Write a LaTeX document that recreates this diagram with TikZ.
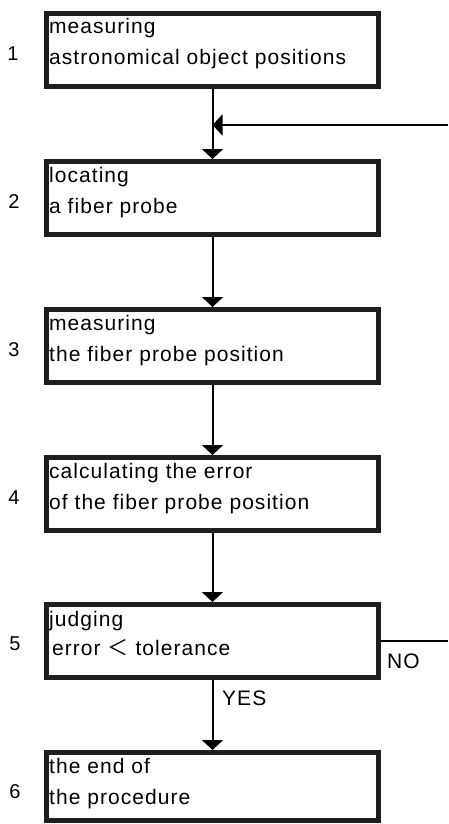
\documentclass[tikz,border=0pt]{standalone}
\usepackage{fontspec}
\setmainfont{Liberation Sans}[LetterSpace=5]
\newfontfamily\cjk{Noto Sans CJK JP}
\usetikzlibrary{arrows.meta}
\begin{document}
\begin{tikzpicture}[x=1pt,y=-1pt,
  stepbox/.style={draw=black!88,line width=5pt,minimum width=332pt,minimum height=73pt,inner sep=0pt,fill=white},
  txt/.style={anchor=base west,inner sep=0pt,font=\fontsize{21pt}{25pt}\selectfont},
  num/.style={inner sep=0pt,font=\fontsize{20pt}{24pt}\selectfont},
  conn/.style={line width=2pt,-{Triangle[width=21pt,length=10pt]}},
  plain/.style={line width=2pt}]
\useasboundingbox (0,0) rectangle (448,824);
% boxes (outer top edges at 11,159,307,455,602,750)
\node[stepbox] (b1) at (212.5,50) {};
\node[stepbox] (b2) at (212.5,198) {};
\node[stepbox] (b3) at (212.5,346) {};
\node[stepbox] (b4) at (212.5,494) {};
\node[stepbox] (b5) at (212.5,641) {};
\node[stepbox,minimum height=68pt] (b6) at (212.5,786.5) {};
% texts
\node[txt] (t1a) at (49,34) {measuring};
\node[txt] (t1b) at (49,65) {astronomical object positions};
\node[txt] (t2a) at (49,182) {locating};
\node[txt] (t2b) at (49,213) {a fiber probe};
\node[txt] (t3a) at (49,330) {measuring};
\node[txt] (t3b) at (49,361) {the fiber probe position};
\node[txt] (t4a) at (49,478) {calculating the error};
\node[txt] (t4b) at (49,509) {of the fiber probe position};
\node[txt] (t5a) at (49,626) {judging};
\node[txt] (t5b) at (52,655) {error {\cjk ＜} tolerance};
\node[txt] (t6a) at (49,773) {the end of};
\node[txt] (t6b) at (49,804) {the procedure};
% step numbers
\node[num] (n1) at (13,54) {1};
\node[num] (n2) at (14,202) {2};
\node[num] (n3) at (14,350) {3};
\node[num] (n4) at (14,498) {4};
\node[num] (n5) at (15,644) {5};
\node[num] (n6) at (15,792) {6};
% connectors
\coordinate (j) at (212.5,125);
\coordinate (r1) at (448,125);
\coordinate (r2) at (448,641);
\draw[conn] (b1.south) -- (b2.north);
\draw[conn] (b2.south) -- (b3.north);
\draw[conn] (b3.south) -- (b4.north);
\draw[conn] (b4.south) -- (b5.north);
\draw[conn] (b5.south) -- (b6.north);
\draw[conn] (r1) -- (j);
\draw[plain] (b5.east) -- (r2);
\node[txt] (no) at (387,668) {NO};
\node[txt] (yes) at (222,705) {YES};
\end{tikzpicture}
\end{document}
